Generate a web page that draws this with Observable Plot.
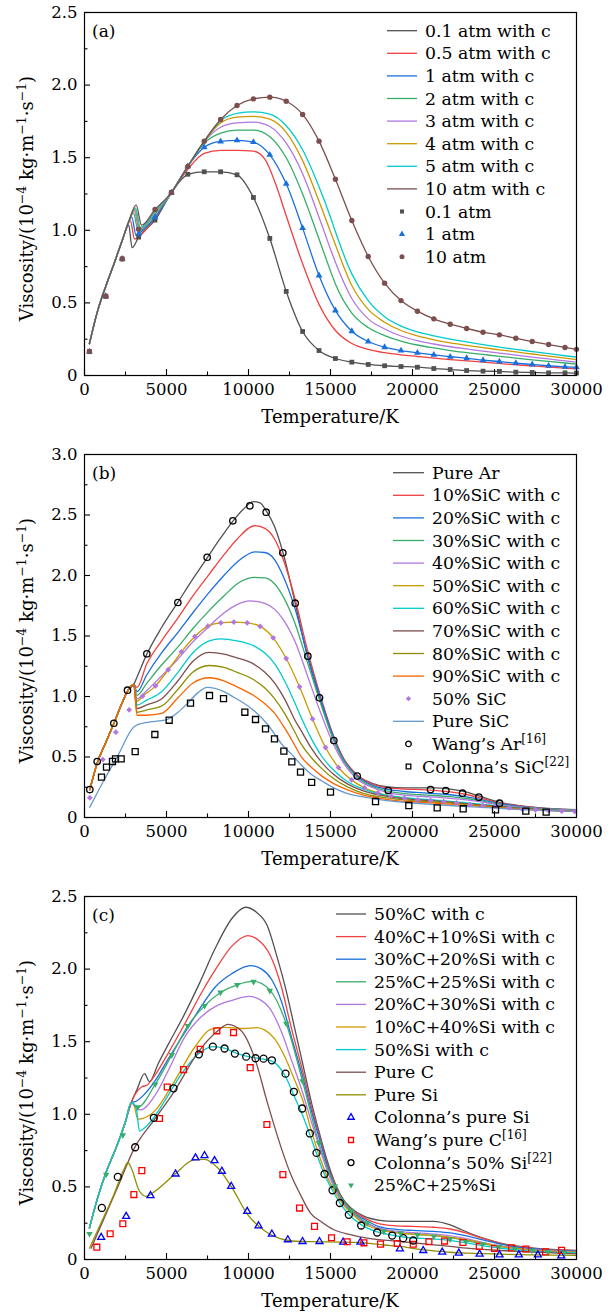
<!DOCTYPE html>
<html>
<head>
<meta charset="utf-8">
<script src="https://cdn.jsdelivr.net/npm/d3@7"></script>
<script src="https://cdn.jsdelivr.net/npm/@observablehq/plot@0.6"></script>
<style>
html,body{margin:0;padding:0;background:#fff;}
#chart svg{display:block;}
</style>
</head>
<body>
<div id="chart"></div>
<script>
const FONT = "'DejaVu Serif', serif";
const C_GRAY="#515151", C_RED="#F14040", C_BLUE="#1A6FDF", C_GREEN="#37AD6B", C_PURPLE="#B177DE",
      C_GOLD="#CC9900", C_CYAN="#00CBCC", C_BROWN="#7D4E4E", C_OLIVE="#8E8E00", C_ORANGE="#FB6501", C_LBLUE="#6699CC";

const X_TICKS=[0,5000,10000,15000,20000,25000,30000];
const X_MINOR=[2500,7500,12500,17500,22500,27500];
const Y_TICKS_25=[0,0.5,1,1.5,2,2.5];
const Y_MINOR_25=[0.25,0.75,1.25,1.75,2.25];
const Y_TICKS_30=[0,0.5,1,1.5,2,2.5,3];
const Y_MINOR_30=[0.25,0.75,1.25,1.75,2.25,2.75];

// ---------------- Panel (a) ----------------
const A_LOW=[[300,0.22],[800,0.445],[1300,0.615],[1800,0.77],[2300,0.93]];
const A_L01=[...A_LOW,[2700,1.035],[2900,0.88],[3300,0.953],[4300,1.07],[5300,1.26],[6000,1.36],[6300,1.386],[7300,1.403],[8300,1.403],[9300,1.382],[10300,1.226],[11300,0.944],[12300,0.579],[13300,0.303],[14300,0.172],[15300,0.117],[16300,0.092],[17300,0.076],[18300,0.067],[19300,0.062],[20300,0.057],[21300,0.048],[22300,0.041],[23300,0.034],[24300,0.03],[25300,0.028],[26300,0.023],[27300,0.021],[28300,0.018],[29300,0.018],[30000,0.017]];
const A_L05=[...A_LOW,[2800,1.065],[3050,0.94],[3300,0.955],[4300,1.085],[5300,1.26],[6300,1.42],[7300,1.53],[8300,1.55],[9300,1.55],[10300,1.545],[11000,1.49],[11650,1.32],[12300,1.1],[13300,0.77],[14300,0.49],[15300,0.31],[16300,0.22],[17300,0.18],[18300,0.157],[19300,0.142],[20300,0.131],[21300,0.12],[22300,0.11],[23300,0.101],[24300,0.092],[25300,0.083],[26300,0.074],[27300,0.066],[28300,0.058],[29300,0.051],[30000,0.047]];
const A_L1=[...A_LOW,[2880,1.09],[3150,0.965],[3300,0.976],[4300,1.09],[5300,1.26],[6300,1.44],[7300,1.572],[8300,1.612],[9300,1.619],[10300,1.607],[11300,1.52],[12300,1.32],[13300,1.015],[14300,0.689],[15300,0.448],[16300,0.305],[17300,0.234],[18300,0.195],[19300,0.172],[20300,0.156],[21300,0.142],[22300,0.129],[23300,0.119],[24300,0.105],[25300,0.096],[26300,0.085],[27300,0.076],[28300,0.067],[29300,0.06],[30000,0.056]];
const A_L2=[...A_LOW,[2700,1.055],[2980,1.12],[3280,0.995],[4300,1.11],[5300,1.26],[6300,1.44],[7300,1.6],[8300,1.67],[9300,1.69],[10300,1.69],[11300,1.645],[12300,1.5],[13300,1.25],[14300,0.94],[15000,0.72],[15300,0.63],[16300,0.43],[17300,0.33],[18300,0.275],[19300,0.237],[20300,0.21],[21300,0.19],[22300,0.172],[23300,0.158],[24300,0.145],[25300,0.132],[26300,0.12],[27300,0.108],[28300,0.097],[29300,0.086],[30000,0.079]];
const A_L3=[...A_LOW,[2700,1.058],[3030,1.135],[3330,1.005],[4300,1.12],[5300,1.26],[6300,1.44],[7300,1.61],[8300,1.71],[9300,1.74],[10300,1.745],[11300,1.715],[12300,1.6],[13300,1.39],[14300,1.09],[15000,0.87],[15300,0.78],[16300,0.53],[17300,0.39],[18300,0.32],[19300,0.272],[20300,0.24],[21300,0.217],[22300,0.198],[23300,0.183],[24300,0.168],[25300,0.154],[26300,0.14],[27300,0.127],[28300,0.114],[29300,0.101],[30000,0.093]];
const A_L4=[...A_LOW,[2700,1.06],[3070,1.145],[3370,1.013],[4300,1.125],[5300,1.26],[6300,1.44],[7300,1.612],[8300,1.74],[9300,1.78],[10300,1.785],[11300,1.765],[12300,1.675],[13300,1.48],[14300,1.2],[15000,0.99],[15300,0.9],[16300,0.62],[17300,0.455],[18300,0.367],[19300,0.31],[20300,0.273],[21300,0.246],[22300,0.225],[23300,0.208],[24300,0.192],[25300,0.177],[26300,0.162],[27300,0.148],[28300,0.134],[29300,0.12],[30000,0.11]];
const A_L5=[...A_LOW,[2700,1.06],[3100,1.155],[3410,1.02],[4300,1.13],[5300,1.26],[6300,1.44],[7300,1.613],[8300,1.755],[9300,1.805],[10300,1.815],[11300,1.8],[12300,1.72],[13300,1.555],[14300,1.3],[15000,1.09],[15300,0.99],[16300,0.7],[17300,0.515],[18300,0.405],[19300,0.34],[20300,0.3],[21300,0.273],[22300,0.25],[23300,0.232],[24300,0.213],[25300,0.196],[26300,0.18],[27300,0.165],[28300,0.15],[29300,0.136],[30000,0.127]];
const A_L10=[...A_LOW,[2700,1.06],[3150,1.175],[3480,1.035],[4300,1.143],[5300,1.26],[6300,1.44],[7300,1.614],[8300,1.763],[9300,1.859],[10300,1.905],[11300,1.917],[12300,1.889],[13300,1.798],[14300,1.614],[15300,1.352],[16300,1.067],[17300,0.82],[18300,0.636],[19300,0.516],[20300,0.443],[21300,0.39],[22300,0.353],[23300,0.324],[24300,0.298],[25300,0.28],[26300,0.257],[27300,0.234],[28300,0.213],[29300,0.193],[30000,0.18]];
const A_MT=[300,1300,2300,3300,4300,5300,6300,7300,8300,9300,10300,11300,12300,13300,14300,15300,16300,17300,18300,19300,20300,21300,22300,23300,24300,25300,26300,27300,28300,29300,30000];
const A_M01=[0.165,0.546,0.803,0.953,1.07,1.26,1.386,1.403,1.403,1.382,1.226,0.944,0.579,0.303,0.172,0.117,0.092,0.076,0.067,0.062,0.057,0.048,0.041,0.034,0.03,0.028,0.023,0.021,0.018,0.018,0.017];
const A_M1=[0.165,0.546,0.803,0.976,1.09,1.26,1.44,1.572,1.612,1.619,1.607,1.52,1.32,1.015,0.689,0.448,0.305,0.234,0.195,0.172,0.156,0.142,0.129,0.119,0.105,0.096,0.085,0.076,0.067,0.06,0.056];
const A_M10=[0.165,0.546,0.803,1.008,1.143,1.26,1.44,1.614,1.763,1.859,1.905,1.917,1.889,1.798,1.614,1.352,1.067,0.82,0.636,0.516,0.443,0.39,0.353,0.324,0.298,0.28,0.257,0.234,0.213,0.193,0.18];

// ---------------- Panel (b) ----------------
const B_LOW=[[325,0.23],[800,0.46],[1300,0.62],[1800,0.78],[2300,0.95],[2650,1.05],[3000,1.1]];
const B_AR=[...B_LOW,[3200,1.16],[3800,1.35],[4700,1.57],[5700,1.78],[6600,1.97],[7500,2.15],[8300,2.31],[9050,2.45],[9700,2.55],[10300,2.61],[10700,2.6],[11100,2.53],[11600,2.4],[12100,2.19],[12850,1.77],[13600,1.33],[14330,0.99],[15200,0.64],[15800,0.47],[16600,0.35],[17500,0.285],[18500,0.252],[19500,0.245],[20500,0.245],[21300,0.245],[22300,0.235],[23300,0.21],[24500,0.158],[25500,0.12],[26500,0.098],[27500,0.084],[28500,0.073],[30000,0.064]];
const B_10=[...B_LOW,[3200,1.075],[3800,1.27],[4700,1.46],[5700,1.65],[6600,1.83],[7600,2.01],[8500,2.17],[9300,2.3],[10400,2.413],[11000,2.39],[11600,2.3],[12100,2.14],[12850,1.8],[13600,1.38],[14330,1.03],[15200,0.67],[15800,0.49],[16600,0.355],[17500,0.28],[18500,0.245],[19500,0.235],[20500,0.23],[21300,0.225],[22300,0.212],[23300,0.19],[24500,0.148],[25500,0.115],[26500,0.095],[27500,0.082],[28500,0.072],[30000,0.063]];
const B_20=[...B_LOW,[3200,1.04],[3800,1.18],[4700,1.36],[5700,1.53],[6600,1.69],[7600,1.86],[8500,2.0],[9300,2.11],[10400,2.195],[11000,2.19],[11600,2.13],[12100,2.0],[12850,1.72],[13600,1.34],[14330,1.01],[15200,0.66],[15800,0.48],[16600,0.345],[17500,0.27],[18500,0.232],[19500,0.215],[20500,0.205],[21300,0.198],[22300,0.188],[23300,0.17],[24500,0.138],[25500,0.11],[26500,0.092],[27500,0.08],[28500,0.07],[30000,0.062]];
const B_30=[...B_LOW,[3200,1.01],[3800,1.11],[4700,1.26],[5700,1.41],[6600,1.56],[7600,1.71],[8500,1.83],[9300,1.93],[10300,1.985],[11000,1.98],[11600,1.93],[12100,1.83],[12850,1.6],[13600,1.28],[14330,0.97],[15200,0.64],[15800,0.47],[16600,0.335],[17500,0.26],[18500,0.218],[19500,0.198],[20500,0.188],[21300,0.182],[22300,0.172],[23300,0.157],[24500,0.13],[25500,0.105],[26500,0.088],[27500,0.077],[28500,0.068],[30000,0.06]];
const B_40=[...B_LOW,[3200,0.98],[3800,1.05],[4700,1.17],[5700,1.31],[6600,1.45],[7600,1.58],[8500,1.69],[9300,1.76],[10100,1.79],[11000,1.77],[11600,1.72],[12100,1.64],[12850,1.45],[13600,1.17],[14330,0.89],[15200,0.6],[15800,0.45],[16600,0.32],[17500,0.25],[18500,0.205],[19500,0.185],[20500,0.175],[21300,0.168],[22300,0.158],[23300,0.145],[24500,0.122],[25500,0.1],[26500,0.085],[27500,0.074],[28500,0.066],[30000,0.058]];
const B_50=[...B_LOW,[3200,0.96],[3537,1.0],[4330,1.088],[5103,1.22],[5915,1.369],[6728,1.496],[7521,1.581],[8313,1.609],[9106,1.615],[9919,1.609],[10713,1.579],[11505,1.485],[12299,1.314],[13110,1.08],[13904,0.815],[14697,0.578],[15490,0.413],[16282,0.311],[17074,0.245],[17887,0.204],[18700,0.176],[19514,0.16],[20307,0.148],[21100,0.141],[21893,0.133],[22686,0.123],[23500,0.11],[24290,0.1],[25085,0.093],[25880,0.082],[26690,0.072],[27500,0.065],[28300,0.06],[29100,0.055],[30000,0.051]];
const B_60=[...B_LOW,[3200,0.93],[3800,0.97],[4700,1.04],[5700,1.2],[6600,1.36],[7600,1.46],[8300,1.477],[9300,1.46],[10300,1.42],[11000,1.36],[11600,1.27],[12200,1.13],[12850,0.94],[13200,0.83],[13800,0.66],[14500,0.5],[15200,0.39],[16000,0.3],[17000,0.235],[18000,0.195],[19000,0.172],[20000,0.158],[21300,0.145],[22500,0.132],[23500,0.118],[24500,0.105],[25500,0.092],[26500,0.08],[27500,0.07],[28500,0.063],[30000,0.055]];
const B_70=[...B_LOW,[3200,0.9],[3800,0.93],[4700,0.98],[5700,1.13],[6600,1.29],[7600,1.365],[8500,1.35],[9300,1.32],[10300,1.27],[11000,1.2],[11600,1.11],[12200,0.98],[12850,0.8],[13200,0.72],[13800,0.58],[14500,0.45],[15200,0.355],[16000,0.28],[17000,0.22],[18000,0.185],[19000,0.163],[20000,0.15],[21300,0.137],[22500,0.125],[23500,0.112],[24500,0.1],[25500,0.088],[26500,0.077],[27500,0.068],[28500,0.061],[30000,0.054]];
const B_80=[...B_LOW,[3200,0.87],[3800,0.89],[4700,0.92],[5700,1.06],[6600,1.2],[7600,1.256],[8500,1.24],[9300,1.2],[10300,1.14],[11000,1.07],[11600,0.98],[12200,0.86],[12850,0.7],[13200,0.61],[13800,0.5],[14500,0.4],[15200,0.32],[16000,0.255],[17000,0.2],[18000,0.17],[19000,0.152],[20000,0.14],[21300,0.128],[22500,0.117],[23500,0.106],[24500,0.095],[25500,0.084],[26500,0.074],[27500,0.066],[28500,0.059],[30000,0.052]];
const B_90=[...B_LOW,[3200,0.845],[3800,0.845],[4700,0.86],[5700,0.99],[6600,1.11],[7600,1.155],[8500,1.13],[9300,1.08],[10300,1.01],[11000,0.94],[11600,0.86],[12200,0.74],[12850,0.59],[13200,0.505],[13800,0.42],[14500,0.34],[15200,0.28],[16000,0.23],[17000,0.185],[18000,0.158],[19000,0.14],[20000,0.13],[21300,0.118],[22500,0.108],[23500,0.098],[24500,0.088],[25500,0.079],[26500,0.07],[27500,0.063],[28500,0.057],[30000,0.05]];
const B_SIC=[[325,0.085],[1179,0.306],[1992,0.5],[3008,0.747],[3211,0.766],[4000,0.79],[4700,0.8],[5040,0.81],[5700,0.87],[6260,0.94],[6900,1.03],[7480,1.075],[8500,1.04],[9106,0.994],[10325,0.884],[11140,0.773],[12155,0.585],[12650,0.52],[13171,0.44],[13800,0.36],[14500,0.3],[15200,0.245],[16000,0.2],[17000,0.17],[18000,0.148],[19000,0.132],[20000,0.12],[21500,0.105],[23000,0.093],[24500,0.082],[26000,0.07],[28000,0.058],[30000,0.05]];
const B_WANG_AR=[[325,0.231],[773,0.463],[1789,0.779],[2622,1.052],[3802,1.353],[5692,1.777],[7480,2.151],[9045,2.452],[10083,2.576],[11077,2.523],[12093,2.187],[12847,1.771],[13620,1.333],[14330,0.989],[15205,0.636],[16630,0.342],[18520,0.223],[21100,0.231],[22033,0.223],[23050,0.201],[24046,0.168],[25306,0.118]];
const B_COL_SIC=[[1037,0.333],[1342,0.416],[1707,0.463],[1890,0.485],[2236,0.485],[3090,0.545],[4290,0.686],[5163,0.804],[6464,0.945],[7622,1.008],[8476,0.983],[9777,0.87],[10428,0.81],[11038,0.733],[11586,0.65],[12155,0.548],[12642,0.46],[13171,0.375],[13850,0.29],[15000,0.209],[17745,0.132],[19776,0.099],[21506,0.08],[23090,0.072],[25062,0.063],[26910,0.052],[28150,0.044]];
const B_SIC50=[[325,0.163],[1118,0.479],[1911,0.705],[2724,0.89],[3537,1.003],[4330,1.088],[5103,1.221],[5915,1.369],[6728,1.496],[7521,1.581],[8313,1.609],[9106,1.615],[9919,1.609],[10713,1.579],[11505,1.485],[12299,1.314],[13110,1.08],[13904,0.815],[14697,0.578],[15490,0.413],[16282,0.311],[17074,0.245],[17887,0.204],[18700,0.176],[19514,0.16],[20307,0.146],[21100,0.14],[21893,0.132],[22686,0.121],[23500,0.107],[24290,0.099],[25085,0.094],[25880,0.08],[26690,0.069],[27500,0.063],[28300,0.058],[29100,0.052],[29890,0.05]];

// ---------------- Panel (c) ----------------
const C_LOW=[[300,0.216],[800,0.424],[1300,0.596],[2000,0.79],[2500,0.95],[2850,1.08]];
const C_50C=[...C_LOW,[3200,1.17],[3660,1.28],[3965,1.225],[4500,1.35],[5100,1.48],[6100,1.69],[7000,1.9],[8000,2.15],[9000,2.35],[9818,2.426],[10500,2.39],[11140,2.3],[11700,2.1],[12300,1.85],[12800,1.6],[13300,1.35],[13800,1.1],[14300,0.88],[14800,0.68],[15300,0.52],[15800,0.41],[16300,0.35],[17000,0.3],[18000,0.27],[19000,0.263],[20000,0.262],[21300,0.262],[22300,0.238],[23000,0.205],[23740,0.17],[24500,0.14],[25360,0.113],[26300,0.093],[27390,0.078],[28500,0.069],[30000,0.062]];
const C_40C=[...C_LOW,[3100,1.14],[3500,1.19],[3800,1.2],[4300,1.27],[5100,1.42],[6100,1.62],[7100,1.83],[8000,2.0],[9000,2.16],[9960,2.231],[10600,2.2],[11300,2.1],[12000,1.88],[12600,1.6],[13300,1.3],[13800,1.07],[14300,0.86],[14800,0.66],[15300,0.51],[15800,0.4],[16300,0.34],[17000,0.29],[18000,0.245],[19000,0.232],[20000,0.228],[21300,0.222],[22300,0.21],[23300,0.182],[24300,0.145],[25300,0.112],[26300,0.09],[27300,0.077],[28500,0.067],[30000,0.06]];
const C_30C=[...C_LOW,[3150,1.09],[3500,1.12],[4300,1.23],[5100,1.38],[6100,1.56],[7100,1.74],[8000,1.88],[9000,1.97],[10123,2.024],[10800,2.0],[11400,1.93],[12000,1.78],[12600,1.54],[13300,1.26],[13800,1.04],[14300,0.84],[14800,0.65],[15300,0.5],[15800,0.395],[16300,0.33],[17000,0.28],[18000,0.225],[19000,0.208],[20000,0.2],[21300,0.193],[22300,0.183],[23300,0.162],[24300,0.135],[25300,0.107],[26300,0.087],[27300,0.074],[28500,0.065],[30000,0.058]];
const C_25C=[...C_LOW,[3253,1.05],[4310,1.206],[5326,1.409],[6302,1.609],[7319,1.747],[8295,1.839],[9311,1.892],[10307,1.915],[11303,1.855],[12300,1.625],[13294,1.229],[14290,0.803],[15266,0.504],[16260,0.336],[17240,0.251],[18250,0.2],[19270,0.182],[20300,0.172],[21300,0.164],[22290,0.15],[23250,0.13],[24270,0.108],[25290,0.09],[26260,0.076],[27280,0.065],[28260,0.058],[29260,0.053],[30000,0.05]];
const C_20C=[...C_LOW,[3150,1.04],[3400,1.03],[4300,1.13],[5100,1.3],[6100,1.53],[7100,1.67],[8100,1.75],[9000,1.785],[10020,1.812],[10700,1.79],[11300,1.73],[12000,1.57],[12600,1.38],[13300,1.15],[13800,0.96],[14300,0.78],[14800,0.61],[15300,0.48],[15800,0.385],[16300,0.32],[17000,0.26],[18000,0.215],[19000,0.195],[20000,0.185],[21000,0.178],[22000,0.168],[23000,0.15],[24000,0.125],[25000,0.1],[26000,0.082],[27000,0.07],[28000,0.062],[29000,0.056],[30000,0.052]];
const C_10C=[...C_LOW,[3000,1.07],[3253,0.965],[3500,0.97],[4270,1.022],[5489,1.229],[6709,1.46],[7725,1.587],[8539,1.598],[9758,1.591],[10500,1.597],[11000,1.58],[11600,1.52],[12200,1.4],[12800,1.24],[13300,1.1],[13800,0.9],[14300,0.72],[14800,0.57],[15300,0.46],[15800,0.375],[16300,0.315],[17000,0.25],[18000,0.205],[19000,0.185],[20000,0.175],[21000,0.168],[22000,0.158],[23000,0.142],[24000,0.12],[25000,0.098],[26000,0.08],[27000,0.068],[28000,0.06],[29000,0.055],[30000,0.05]];
const C_50SI=[...C_LOW,[3151,1.045],[3354,0.884],[3600,0.9],[4066,0.953],[4879,1.09],[5896,1.275],[6912,1.413],[7827,1.466],[8539,1.455],[9169,1.425],[9860,1.4],[10429,1.388],[10978,1.379],[11588,1.356],[12257,1.26],[12765,1.13],[13275,1.0],[13740,0.86],[14148,0.73],[14635,0.585],[15123,0.475],[15570,0.39],[16118,0.31],[16870,0.24],[17848,0.19],[18763,0.168],[19434,0.155],[20044,0.148],[21000,0.143],[22000,0.135],[23000,0.12],[24000,0.1],[25000,0.083],[26000,0.07],[27000,0.06],[28000,0.053],[29000,0.048],[30000,0.045]];
const C_PUREC=[[407,0.078],[1000,0.233],[2000,0.492],[3050,0.769],[4270,0.965],[5489,1.16],[6912,1.425],[8132,1.575],[8742,1.62],[9555,1.575],[10368,1.39],[11182,1.068],[11995,0.769],[12600,0.58],[13171,0.445],[13780,0.32],[14390,0.263],[15205,0.205],[16220,0.171],[17236,0.147],[18250,0.133],[19270,0.124],[20300,0.112],[21300,0.101],[22300,0.09],[23330,0.078],[24300,0.07],[25360,0.062],[26400,0.056],[27390,0.051],[28500,0.045],[30000,0.039]];
const C_PURESI=[[305,0.078],[1000,0.25],[1800,0.45],[2400,0.62],[2643,0.668],[2850,0.63],[3354,0.47],[3761,0.435],[4300,0.47],[5489,0.585],[6709,0.688],[7319,0.69],[8132,0.63],[8945,0.504],[9962,0.308],[10978,0.198],[12198,0.136],[13171,0.124],[14300,0.122],[15500,0.12],[16500,0.118],[17236,0.113],[18250,0.1],[19270,0.09],[20300,0.072],[21300,0.06],[22300,0.05],[23330,0.044],[24300,0.04],[25360,0.037],[26400,0.034],[27390,0.032],[28500,0.03],[30000,0.028]];
const C_COL_SI=[[1017,0.152],[2541,0.297],[4025,0.44],[5550,0.589],[6770,0.7],[7319,0.716],[7929,0.681],[8376,0.608],[8945,0.504],[9921,0.331],[10612,0.232],[11425,0.175],[12398,0.136],[13294,0.124],[14330,0.124],[15774,0.12],[16830,0.12],[19229,0.074],[20654,0.062],[21812,0.051],[22826,0.044],[24090,0.037],[25306,0.032],[26485,0.032],[27645,0.032],[29070,0.025]];
const C_WANG_C=[[752,0.085],[1565,0.177],[2338,0.246],[3009,0.447],[3497,0.612],[4574,0.971],[5042,1.188],[6038,1.308],[7055,1.448],[8071,1.575],[9088,1.563],[10104,1.321],[11121,0.93],[12096,0.585],[13111,0.354],[14025,0.228],[15062,0.15],[16018,0.122],[17035,0.115],[18050,0.106],[19066,0.11],[20044,0.105],[21000,0.122],[21955,0.127],[23073,0.117],[24070,0.09],[25004,0.076],[26040,0.08],[26915,0.072],[28114,0.052],[29090,0.063]];
const C_COL_50SI=[[1057,0.355],[2033,0.569],[3090,0.773],[4229,0.976],[5428,1.179],[6973,1.413],[7827,1.466],[8539,1.453],[9169,1.418],[9860,1.397],[10429,1.386],[10917,1.383],[11425,1.372],[12257,1.28],[12765,1.155],[13275,1.04],[13740,0.868],[14148,0.734],[14635,0.589],[15123,0.477],[15570,0.389],[16118,0.308],[16870,0.234],[17848,0.186],[18763,0.165],[19434,0.147],[20044,0.131]];
const C_M25=[[305,0.177],[1321,0.585],[2338,0.856],[3253,1.05],[4310,1.206],[5326,1.409],[6302,1.609],[7319,1.747],[8295,1.839],[9311,1.892],[10307,1.913],[11303,1.851],[12300,1.625],[13294,1.229],[14290,0.803],[15266,0.504],[16260,0.336],[17240,0.251],[18250,0.193],[19270,0.182],[20300,0.17],[21300,0.16],[22290,0.14],[23250,0.124],[24270,0.106],[25290,0.089],[26260,0.074],[27280,0.062],[28260,0.055],[29260,0.048]];

// ---------------- drawing ----------------
const W=614, H=442, ML=84, MR=38, MT=12, MB=67;
const IW=W-ML-MR, IH=H-MT-MB;

function drawPanel(cfg){
  const marks=[];
  for(const s of cfg.lines){
    marks.push(Plot.line(s.data,{x:d=>d[0],y:d=>d[1],stroke:s.color,strokeWidth:1.3,curve:"monotone-x"}));
  }
  for(const s of cfg.dots){
    marks.push(Plot.dot(s.data,{x:s.x||(d=>d[0]),y:s.y||(d=>d[1]),symbol:s.symbol,r:s.r,fill:s.fill,stroke:s.stroke||"none",strokeWidth:s.sw||1,rotate:s.rotate||0}));
  }
  marks.push(Plot.ruleX(X_TICKS,{insetTop:IH-6,stroke:"#000",strokeWidth:1.1}));
  marks.push(Plot.ruleX(X_MINOR,{insetTop:IH-3.5,stroke:"#000",strokeWidth:1.1}));
  marks.push(Plot.ruleY(cfg.yTicks,{insetRight:IW-6,stroke:"#000",strokeWidth:1.1}));
  marks.push(Plot.ruleY(cfg.yMinor,{insetRight:IW-3.5,stroke:"#000",strokeWidth:1.1}));
  marks.push(Plot.axisX(X_TICKS,{tickSize:0,tickPadding:8,tickFormat:d=>String(d),label:null}));
  marks.push(Plot.axisY(cfg.yTicks,{tickSize:0,tickPadding:7,tickFormat:d=>d===0?"0":d.toFixed(1),label:null}));
  marks.push(Plot.frame({stroke:"#000",strokeWidth:1.2}));
  const svg=Plot.plot({width:W,height:H,marginLeft:ML,marginRight:MR,marginTop:MT,marginBottom:MB,
    x:{domain:[0,30000]},y:{domain:[0,cfg.yMax]},
    style:{fontFamily:FONT,fontSize:"16.5px",background:"white",color:"black",overflow:"visible"},
    marks});
  const s=d3.select(svg);
  // panel label
  s.append("text").attr("x",92).attr("y",37).attr("text-anchor","start").attr("font-family",FONT).attr("font-size",17).text(cfg.label);
  // x title
  s.append("text").attr("x",ML+IW/2).attr("y",423).attr("text-anchor","middle").attr("font-family",FONT).attr("font-size",18).text("Temperature/K");
  // y title
  const t=s.append("text").attr("transform",`translate(33,${MT+IH/2+5}) rotate(-90)`).attr("text-anchor","middle").attr("font-family",FONT).attr("font-size",18);
  const parts=[["Viscosity/(10",0],["−4",1],[" kg·m",0],["−1",1],["·s",0],["−1",1],[")",0]];
  let up=false;
  for(const [str,sup] of parts){
    const ts=t.append("tspan").text(str);
    if(sup){ts.attr("font-size",12.5); if(!up){ts.attr("dy",-7); up=true;}}
    else if(up){ts.attr("dy",7); up=false;}
  }
  // legend
  const g=s.append("g").attr("font-family",FONT).attr("font-size",17.3).attr("text-anchor","start");
  const L=cfg.legend;
  L.items.forEach((it,i)=>{
    const y=L.y0+i*L.dy;
    if(it.type==="line"){
      g.append("line").attr("x1",L.x0).attr("x2",L.x1).attr("y1",y).attr("y2",y).attr("stroke",it.color).attr("stroke-width",1.3);
    } else {
      g.append("path").attr("d",d3.symbol(it.sym,Math.PI*it.r*it.r)())
        .attr("transform",`translate(${(L.x0+L.x1)/2},${y}) rotate(${it.rotate||0})`)
        .attr("fill",it.fill).attr("stroke",it.stroke||"none").attr("stroke-width",it.sw||1);
    }
    const tx=g.append("text").attr("x",L.tx+(it.dx||0)).attr("y",y+6).attr("text-anchor","start");
    tx.append("tspan").text(it.label);
    if(it.sup){tx.append("tspan").attr("font-size",12).attr("dy",-7).text(it.sup);}
  });
  return svg;
}

const SQ=d3.symbolSquare, TRI=d3.symbolTriangle, CIR=d3.symbolCircle, DIA=d3.symbolDiamond2;

const panelA=drawPanel({
  label:"(a)", yMax:2.5, yTicks:Y_TICKS_25, yMinor:Y_MINOR_25,
  lines:[
    {data:A_L01,color:C_GRAY},{data:A_L05,color:C_RED},{data:A_L1,color:C_BLUE},{data:A_L2,color:C_GREEN},
    {data:A_L3,color:C_PURPLE},{data:A_L4,color:C_GOLD},{data:A_L5,color:C_CYAN},{data:A_L10,color:C_BROWN}
  ],
  dots:[
    {data:A_MT,x:(d)=>d,y:(d,i)=>A_M01[i],symbol:"square",r:2.7,fill:C_GRAY},
    {data:A_MT,x:(d)=>d,y:(d,i)=>A_M1[i],symbol:"triangle",r:2.5,fill:C_BLUE},
    {data:A_MT,x:(d)=>d,y:(d,i)=>A_M10[i],symbol:"circle",r:2.7,fill:C_BROWN}
  ],
  legend:{x0:387,x1:417,tx:425,y0:30.7,dy:22.6,items:[
    {type:"line",color:C_GRAY,label:"0.1 atm with c"},
    {type:"line",color:C_RED,label:"0.5 atm with c"},
    {type:"line",color:C_BLUE,label:"1 atm with c"},
    {type:"line",color:C_GREEN,label:"2 atm with c"},
    {type:"line",color:C_PURPLE,label:"3 atm with c"},
    {type:"line",color:C_GOLD,label:"4 atm with c"},
    {type:"line",color:C_CYAN,label:"5 atm with c"},
    {type:"line",color:C_BROWN,label:"10 atm with c"},
    {type:"dot",sym:SQ,r:2.3,fill:C_GRAY,label:"0.1 atm"},
    {type:"dot",sym:TRI,r:2.3,fill:C_BLUE,label:"1 atm"},
    {type:"dot",sym:CIR,r:2.5,fill:C_BROWN,label:"10 atm"}
  ]}
});

const panelB=drawPanel({
  label:"(b)", yMax:3.0, yTicks:Y_TICKS_30, yMinor:Y_MINOR_30,
  lines:[
    {data:B_AR,color:C_GRAY},{data:B_10,color:C_RED},{data:B_20,color:C_BLUE},{data:B_30,color:C_GREEN},
    {data:B_40,color:C_PURPLE},{data:B_50,color:C_GOLD},{data:B_60,color:C_CYAN},{data:B_70,color:C_BROWN},
    {data:B_80,color:C_OLIVE},{data:B_90,color:C_ORANGE},{data:B_SIC,color:C_LBLUE}
  ],
  dots:[
    {data:B_SIC50,symbol:"diamond2",r:2.6,fill:C_PURPLE},
    {data:B_WANG_AR,symbol:"circle",r:3.2,fill:"none",stroke:"#000",sw:1.3},
    {data:B_COL_SIC,symbol:"square",r:3.4,fill:"none",stroke:"#000",sw:1.3}
  ],
  legend:{x0:393,x1:424,tx:432,y0:30.7,dy:22.6,items:[
    {type:"line",color:C_GRAY,label:"Pure Ar"},
    {type:"line",color:C_RED,label:"10%SiC with c"},
    {type:"line",color:C_BLUE,label:"20%SiC with c"},
    {type:"line",color:C_GREEN,label:"30%SiC with c"},
    {type:"line",color:C_PURPLE,label:"40%SiC with c"},
    {type:"line",color:C_GOLD,label:"50%SiC with c"},
    {type:"line",color:C_CYAN,label:"60%SiC with c"},
    {type:"line",color:C_BROWN,label:"70%SiC with c"},
    {type:"line",color:C_OLIVE,label:"80%SiC with c"},
    {type:"line",color:C_ORANGE,label:"90%SiC with c"},
    {type:"dot",sym:DIA,r:2.4,fill:C_PURPLE,label:"50% SiC"},
    {type:"line",color:C_LBLUE,label:"Pure SiC"},
    {type:"dot",sym:CIR,r:2.8,fill:"none",stroke:"#000",sw:1.3,label:"Wang’s Ar",sup:"[16]"},
    {type:"dot",sym:SQ,r:2.6,fill:"none",stroke:"#000",sw:1.3,label:"Colonna’s SiC",sup:"[22]",dx:-10}
  ]}
});

const panelC=drawPanel({
  label:"(c)", yMax:2.5, yTicks:Y_TICKS_25, yMinor:Y_MINOR_25,
  lines:[
    {data:C_50C,color:C_GRAY},{data:C_40C,color:C_RED},{data:C_30C,color:C_BLUE},{data:C_25C,color:C_GREEN},
    {data:C_20C,color:C_PURPLE},{data:C_10C,color:C_GOLD},{data:C_50SI,color:C_CYAN},
    {data:C_PUREC,color:C_BROWN},{data:C_PURESI,color:C_OLIVE}
  ],
  dots:[
    {data:C_COL_SI,symbol:"triangle",r:2.6,fill:"none",stroke:"#0000FF",sw:1.3},
    {data:C_WANG_C,symbol:"square",r:3.3,fill:"none",stroke:"#FF0000",sw:1.3},
    {data:C_COL_50SI,symbol:"circle",r:3.5,fill:"none",stroke:"#000",sw:1.3},
    {data:C_M25,symbol:"triangle",r:2.4,fill:C_GREEN,rotate:180}
  ],
  legend:{x0:336,x1:366,tx:374,y0:30,dy:22.6,items:[
    {type:"line",color:C_GRAY,label:"50%C with c"},
    {type:"line",color:C_RED,label:"40%C+10%Si with c"},
    {type:"line",color:C_BLUE,label:"30%C+20%Si with c"},
    {type:"line",color:C_GREEN,label:"25%C+25%Si with c"},
    {type:"line",color:C_PURPLE,label:"20%C+30%Si with c"},
    {type:"line",color:C_GOLD,label:"10%C+40%Si with c"},
    {type:"line",color:C_CYAN,label:"50%Si with c"},
    {type:"line",color:C_BROWN,label:"Pure C"},
    {type:"line",color:C_OLIVE,label:"Pure Si"},
    {type:"dot",sym:TRI,r:2.4,fill:"none",stroke:"#0000FF",sw:1.3,label:"Colonna’s pure Si"},
    {type:"dot",sym:SQ,r:2.8,fill:"none",stroke:"#FF0000",sw:1.3,label:"Wang’s pure C",sup:"[16]"},
    {type:"dot",sym:CIR,r:3.0,fill:"none",stroke:"#000",sw:1.3,label:"Colonna’s 50% Si",sup:"[22]"},
    {type:"dot",sym:TRI,r:2.2,fill:C_GREEN,rotate:180,label:"25%C+25%Si"}
  ]}
});

const root=document.getElementById("chart");
root.append(panelA,panelB,panelC);
</script>
</body>
</html>
